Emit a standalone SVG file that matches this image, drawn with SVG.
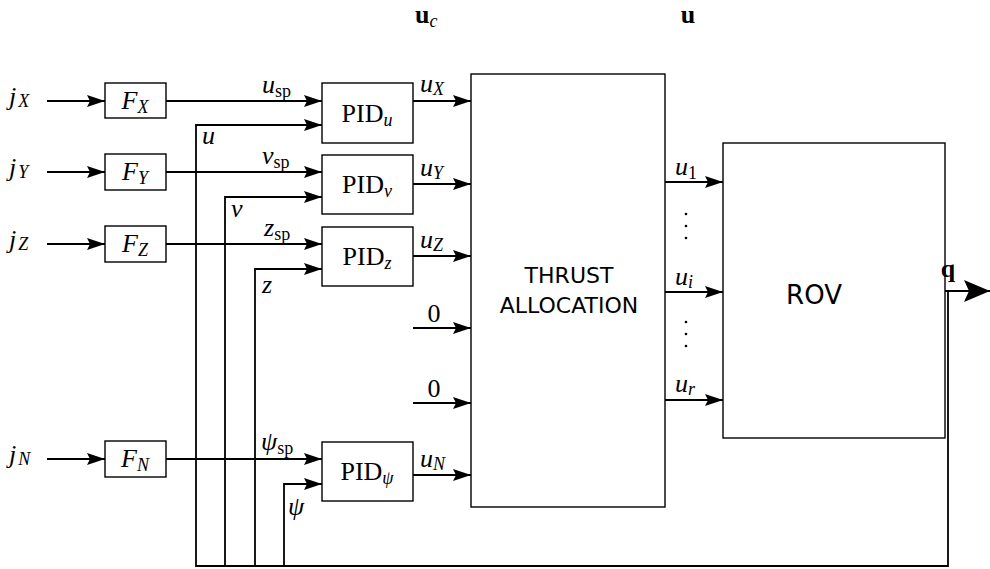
<svg xmlns="http://www.w3.org/2000/svg" width="990" height="569" viewBox="0 0 990 569">
<style>
.box{fill:#fff;stroke:#000;stroke-width:1.4}
.ln{fill:none;stroke:#000;stroke-width:1.8}
.m{font-family:"Liberation Serif","DejaVu Serif",serif;font-size:26px;fill:#000}
.i{font-style:italic}
.s{font-size:18px}
.b{font-weight:bold}
.sans{font-family:"DejaVu Sans","Liberation Sans",sans-serif;fill:#000}
</style>
<defs>
<marker id="ar" markerUnits="userSpaceOnUse" markerWidth="20" markerHeight="14" viewBox="0 -7 20 14" refX="18" refY="0" orient="auto">
<path d="M0,-6 L18,0 L0,6 L3,0 z" fill="#000"/>
</marker>
<marker id="big" markerUnits="userSpaceOnUse" markerWidth="28" markerHeight="24" viewBox="0 -12 28 24" refX="26" refY="0" orient="auto">
<path d="M0,-11 L26,0 L0,11 L5,0 z" fill="#000"/>
</marker>
</defs>
<g id="connectors">
<path class="ln" d="M47,101 H105" marker-end="url(#ar)"/>
<path class="ln" d="M47,172 H105" marker-end="url(#ar)"/>
<path class="ln" d="M47,244 H105" marker-end="url(#ar)"/>
<path class="ln" d="M47,459 H105" marker-end="url(#ar)"/>
<path class="ln" d="M166,101 H322" marker-end="url(#ar)"/>
<path class="ln" d="M166,172 H322" marker-end="url(#ar)"/>
<path class="ln" d="M166,244 H322" marker-end="url(#ar)"/>
<path class="ln" d="M166,459 H322" marker-end="url(#ar)"/>
<path class="ln" d="M948,291 V566 H196 V125 H322" marker-end="url(#ar)"/>
<path class="ln" d="M225,566 V197 H322" marker-end="url(#ar)"/>
<path class="ln" d="M255,566 V269 H322" marker-end="url(#ar)"/>
<path class="ln" d="M284,566 V484 H322" marker-end="url(#ar)"/>
<path class="ln" d="M413,101 H471" marker-end="url(#ar)"/>
<path class="ln" d="M413,184 H471" marker-end="url(#ar)"/>
<path class="ln" d="M413,256 H471" marker-end="url(#ar)"/>
<path class="ln" d="M413,475 H471" marker-end="url(#ar)"/>
<path class="ln" d="M413,328 H471" marker-end="url(#ar)"/>
<path class="ln" d="M413,403 H471" marker-end="url(#ar)"/>
<path class="ln" d="M665,182 H723" marker-end="url(#ar)"/>
<path class="ln" d="M665,292 H723" marker-end="url(#ar)"/>
<path class="ln" d="M665,400 H723" marker-end="url(#ar)"/>
<path class="ln" d="M945,291 H990" marker-end="url(#big)"/>
</g>
<g id="fx"><rect class="box" x="105" y="83" width="61" height="35"/><text class="m" x="135" y="109" text-anchor="middle"><tspan class="i">F</tspan><tspan class="i s" dy="4">X</tspan></text></g>
<g id="fy"><rect class="box" x="105" y="154" width="61" height="36"/><text class="m" x="135" y="180" text-anchor="middle"><tspan class="i">F</tspan><tspan class="i s" dy="4">Y</tspan></text></g>
<g id="fz"><rect class="box" x="105" y="226" width="61" height="36"/><text class="m" x="135" y="252" text-anchor="middle"><tspan class="i">F</tspan><tspan class="i s" dy="4">Z</tspan></text></g>
<g id="fn"><rect class="box" x="105" y="441" width="61" height="36"/><text class="m" x="135" y="467" text-anchor="middle"><tspan class="i">F</tspan><tspan class="i s" dy="4">N</tspan></text></g>
<g id="pidu"><rect class="box" x="322" y="83" width="91" height="60"/><text class="m" x="367" y="122" text-anchor="middle">PID<tspan class="i s" dy="4">u</tspan></text></g>
<g id="pidv"><rect class="box" x="322" y="155" width="91" height="59"/><text class="m" x="367" y="193" text-anchor="middle">PID<tspan class="i s" dy="4">v</tspan></text></g>
<g id="pidz"><rect class="box" x="322" y="227" width="91" height="59"/><text class="m" x="367" y="265" text-anchor="middle">PID<tspan class="i s" dy="4">z</tspan></text></g>
<g id="pidpsi"><rect class="box" x="322" y="442" width="91" height="59"/><text class="m" x="367" y="480" text-anchor="middle">PID<tspan class="i s" dy="4">ψ</tspan></text></g>
<g id="thrust"><rect class="box" x="471" y="74" width="194" height="433"/><text class="sans" font-size="22" x="569" y="283" text-anchor="middle">THRUST</text><text class="sans" font-size="22" x="569" y="313" text-anchor="middle">ALLOCATION</text></g>
<g id="rov"><rect class="box" x="723" y="143" width="222" height="295"/><text class="sans" font-size="26" x="814" y="304" text-anchor="middle">ROV</text></g>
<g id="labels">
<text class="m" x="9" y="105"><tspan class="i">j</tspan><tspan class="i s" dy="2" dx="2">X</tspan></text>
<text class="m" x="9" y="176"><tspan class="i">j</tspan><tspan class="i s" dy="2" dx="2">Y</tspan></text>
<text class="m" x="9" y="248"><tspan class="i">j</tspan><tspan class="i s" dy="2" dx="2">Z</tspan></text>
<text class="m" x="9" y="463"><tspan class="i">j</tspan><tspan class="i s" dy="2" dx="2">N</tspan></text>
<text class="m" x="262" y="93"><tspan class="i">u</tspan><tspan class="s" dy="4">sp</tspan></text>
<text class="m" x="262" y="164"><tspan class="i">v</tspan><tspan class="s" dy="4">sp</tspan></text>
<text class="m" x="264" y="236"><tspan class="i">z</tspan><tspan class="s" dy="4">sp</tspan></text>
<text class="m" x="261" y="450"><tspan class="i">ψ</tspan><tspan class="s" dy="4">sp</tspan></text>
<text class="m i" x="202" y="144">u</text>
<text class="m i" x="231" y="217">v</text>
<text class="m i" x="262" y="293">z</text>
<text class="m i" x="288" y="515">ψ</text>
<text class="m" x="420" y="92"><tspan class="i">u</tspan><tspan class="i s" dy="3">X</tspan></text>
<text class="m" x="420" y="176"><tspan class="i">u</tspan><tspan class="i s" dy="3">Y</tspan></text>
<text class="m" x="420" y="248"><tspan class="i">u</tspan><tspan class="i s" dy="3">Z</tspan></text>
<text class="m" x="420" y="467"><tspan class="i">u</tspan><tspan class="i s" dy="3">N</tspan></text>
<text class="m" x="434" y="322" text-anchor="middle">0</text>
<text class="m" x="434" y="397" text-anchor="middle">0</text>
<text class="m" x="675" y="175"><tspan class="i">u</tspan><tspan class="s" dy="4">1</tspan></text>
<text class="m" x="675" y="285"><tspan class="i">u</tspan><tspan class="i s" dy="3">i</tspan></text>
<text class="m" x="675" y="392"><tspan class="i">u</tspan><tspan class="i s" dy="3">r</tspan></text>
<g fill="#000"><circle cx="686" cy="214" r="1.3"/><circle cx="686" cy="226" r="1.3"/><circle cx="686" cy="238" r="1.3"/><circle cx="686" cy="322" r="1.3"/><circle cx="686" cy="334" r="1.3"/><circle cx="686" cy="346" r="1.3"/></g>
<text class="m b" x="948" y="277" text-anchor="middle">q</text>
<text class="m" x="415" y="23"><tspan class="b">u</tspan><tspan class="i s" dy="4">c</tspan></text>
<text class="m b" x="688" y="23" text-anchor="middle">u</text>
</g>
</svg>
